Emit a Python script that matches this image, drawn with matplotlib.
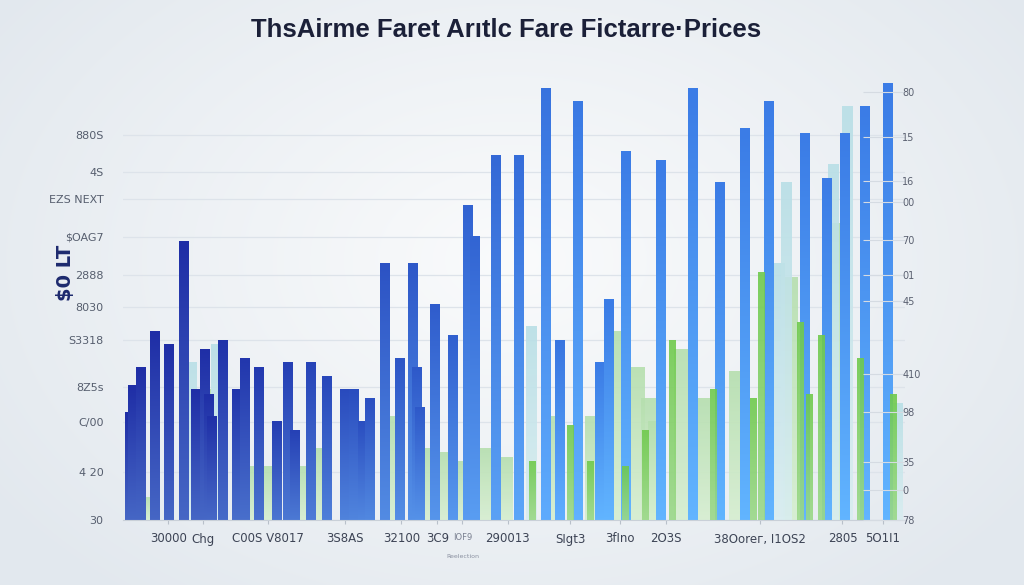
import matplotlib.pyplot as plt
import numpy as np
from matplotlib.colors import LinearSegmentedColormap, to_rgb

# positions along the axis (0-100) and heights (0-100)
blue_pos = [0.9, 1.3, 2.3, 4.1, 5.9, 7.8, 9.3, 10.4, 10.9, 11.3, 12.8, 14.5, 15.5, 17.4,
            19.6, 21.1, 22.0, 24.0, 26.1, 28.3, 29.5, 30.6, 31.5, 33.5, 35.4, 37.1, 37.5,
            37.9, 39.9, 42.1, 44.1, 45.0, 47.7, 50.6, 54.1, 55.9, 58.1, 61.0, 62.1, 64.3,
            68.7, 72.8, 76.3, 79.5, 82.6, 87.2, 90.0, 92.3, 94.9, 97.8]
blue_val = [24, 30, 34, 42, 39, 62, 29, 38, 28, 23, 40, 29, 36, 34,
            22, 35, 20, 35, 32, 29, 29, 22, 27, 57, 36, 57, 34,
            25, 48, 41, 70, 63, 81, 81, 96, 40, 93, 35, 49, 82,
            80, 96, 75, 87, 93, 86, 76, 86, 92, 97]

pale_pos = [2.6, 10.2, 16.2, 18.8, 22.6, 25.2, 34.4, 39.0, 40.9, 43.4, 46.3, 48.8, 55.0,
            60.0, 63.7, 65.7, 67.1, 68.0, 71.4, 74.0, 78.4, 85.3, 91.2]
pale_val = [5, 29, 12, 12, 12, 16, 23, 16, 15, 13, 16, 14, 23,
            23, 42, 34, 27, 22, 38, 27, 33, 54, 66]

cyan_pos = [8.7, 11.9, 52.2, 84.0, 84.8, 90.8, 92.6, 99.1]
cyan_val = [35, 39, 43, 57, 75, 79, 92, 26]

green_pos = [52.3, 57.2, 59.7, 64.2, 66.8, 70.2, 75.4, 80.6, 81.6, 86.6, 87.7, 89.3, 94.2, 98.5]
green_val = [13, 21, 13, 12, 20, 40, 29, 27, 55, 44, 28, 41, 36, 28]

left_ticks = [85.6, 77.3, 71.3, 62.9, 54.4, 47.3, 40.0, 29.6, 21.8, 10.7, 0]
left_labels = ['880S', '4S', 'EZS NEXT', '$OAG7', '2888', '8030', 'S3318', '8Z5s', 'C/00', '4 20', '30']
right_ticks = [95.1, 85.1, 75.3, 70.7, 62.2, 54.4, 48.7, 32.4, 24.0, 12.9, 6.7, 0]
right_labels = ['80', '15', '16', '00', '70', '01', '45', '410', '98', '35', '0', '78']
bottom_ticks = [5.8, 10.2, 18.5, 28.4, 35.6, 40.2, 43.4, 49.2, 57.2, 63.6, 69.4, 81.5, 92.0, 97.2]
bottom_labels = ['30000', 'Chg', 'C00S V8017', '3S8AS', '32100', '3C9', 'IOF9', '290013',
                 'SIgt3', '3fIno', '2O3S', '38Ooreг, I1OS2', '2805', '5O1I1']

fig = plt.figure(figsize=(10.24, 5.85), dpi=100)

# soft radial background
yy, xx = np.mgrid[0:585, 0:1024]
r = np.sqrt(((xx - 512) / 640) ** 2 + ((yy - 260) / 440) ** 2)
r = np.clip(r, 0, 1)
c_in = np.array(to_rgb('#fafbfc'))
c_out = np.array(to_rgb('#e2e8ee'))
bg = c_in[None, None, :] * (1 - r[..., None]) + c_out[None, None, :] * r[..., None]
fig.figimage(bg, 0, 0, zorder=-10)

ax = fig.add_axes([123 / 1024, 65 / 585, 782 / 1024, 450 / 585])
ax.patch.set_alpha(0)


def grad_bar(x, h, w, top, bottom, z, alpha=1.0):
    cm = LinearSegmentedColormap.from_list('g', [bottom, top])
    g = np.linspace(0, 1, 64).reshape(-1, 1)
    ax.imshow(g, extent=[x - w / 2, x + w / 2, 0, h], origin='lower', aspect='auto',
              cmap=cm, zorder=z, alpha=alpha, interpolation='bilinear')


for x, h in zip(pale_pos, pale_val):
    grad_bar(x, h, 1.8, '#b5dfae', '#d6eed0', 1, 0.9)
for x, h in zip(cyan_pos, cyan_val):
    grad_bar(x, h, 1.4, '#b8dfe6', '#d9edf0', 1.5, 0.9)

dark_top = np.array(to_rgb('#1f2ea6'))
bright_top = np.array(to_rgb('#3b7ce6'))
for x, h in zip(blue_pos, blue_val):
    t = min(max((x - 10) / 50, 0), 1)
    top = dark_top * (1 - t) + bright_top * t
    bottom = np.clip(top + np.array([0.15, 0.22, 0.12]), 0, 1)
    grad_bar(x, h, 1.2, top, bottom, 2)

for x, h in zip(green_pos, green_val):
    grad_bar(x, h, 0.8, '#6fca4c', '#9bd889', 3, 0.9)

ax.set_xlim(0, 100)
ax.set_ylim(0, 100)

ax.set_yticks(left_ticks)
ax.set_yticklabels(left_labels, fontsize=8, color='#565e6e')
ax.grid(axis='y', color='#dde3ea', linewidth=0.9, zorder=0)
ax.set_axisbelow(True)
ax.tick_params(axis='y', length=0, pad=14)
ax.set_xticks(bottom_ticks)
ax.set_xticklabels(bottom_labels, fontsize=8.5, color='#3d4455')
ax.tick_params(axis='x', length=3, color='#b8c0ca', pad=6)
for lbl in ax.get_xticklabels():
    if lbl.get_text() == 'IOF9':
        lbl.set_fontsize(6)
        lbl.set_color('#7a8090')
for s in ['top', 'right', 'left']:
    ax.spines[s].set_visible(False)
ax.spines['bottom'].set_color('#c9d0d8')

ax.text(43.4, -7.5, 'Reelection', fontsize=4.5, color='#8a90a0', ha='center', va='top')
ax.set_ylabel('$0 LT', fontsize=14, color='#1d2a6e', fontweight='bold')
ax.yaxis.set_label_coords(-0.062, 0.55)

ax2 = ax.twinx()
ax2.set_ylim(0, 100)
ax2.set_yticks(right_ticks)
ax2.set_yticklabels(right_labels, fontsize=7, color='#5a6070')
ax2.tick_params(axis='y', direction='in', length=30, color='#d5dbe2', pad=-2)
for s in ax2.spines.values():
    s.set_visible(False)

fig.text(0.494, 0.948, 'ThsAirme Faret Arıtlc Fare Fictarre·Prices', ha='center', va='center',
         fontsize=18.5, fontweight='bold', color='#1b2038', family='Liberation Sans')

fig.savefig('out.png', dpi=100)
